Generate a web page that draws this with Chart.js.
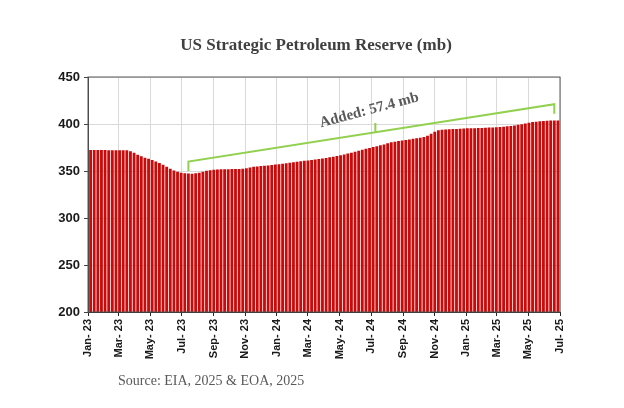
<!DOCTYPE html>
<html lang="en">
<head>
    <meta charset="UTF-8">
    <title>US Strategic Petroleum Reserve</title>
    <script src="https://cdn.jsdelivr.net/npm/chart.js"></script>
    <style>
        html, body { margin: 0; padding: 0; background: #fff; }
        #wrap { width: 624px; height: 408px; }
    </style>
</head>
<body>
    <div id="wrap">
        <canvas id="sprChart" width="624" height="408"></canvas>
    </div>
    <script>
        // weekly stocks (mb), first reading Fri 6 Jan 2023
        const firstWeek = '2023-01-06';
        const sprStocks = [
            372.3, 372.3, 372.3, 372.3, 372.3, 372.2, 372.2, 372.2, 372.2, 372.1, 372.0,
            371.0, 369.3, 367.4, 365.6, 364.2, 362.9, 361.6, 360.1, 358.6, 356.7,
            354.6, 352.4, 350.5, 349.1, 348.2, 347.6, 347.3, 347.2, 347.5, 348.2,
            349.2, 350.2, 350.9, 351.3, 351.6, 351.8, 351.9, 351.9, 352.0, 352.0,
            352.1, 352.4, 353.0, 353.7, 354.4, 354.9, 355.2, 355.5, 355.9, 356.3,
            356.8, 357.3, 357.8, 358.3, 358.8, 359.3, 359.8, 360.3, 360.8, 361.3,
            361.8, 362.3, 362.8, 363.3, 363.9, 364.5, 365.1, 365.9, 366.7, 367.6,
            368.5, 369.5, 370.6, 371.6, 372.6, 373.6, 374.6, 375.5, 376.4, 377.3,
            378.3, 379.5, 380.6, 381.2, 381.8, 382.4, 383.0, 383.5, 384.2, 384.9,
            385.5, 386.2, 387.5, 389.5, 391.8, 393.3, 393.9, 394.2, 394.4, 394.6,
            394.8, 395.0, 395.2, 395.4, 395.5, 395.6, 395.7, 395.8, 396.0, 396.2,
            396.4, 396.6, 396.9, 397.2, 397.6, 398.0, 398.5, 399.1, 399.8, 400.6,
            401.4, 402.0, 402.5, 402.9, 403.2, 403.5, 403.7, 403.8, 403.8
        ];
        const tickLabels = ['Jan- 23', 'Mar- 23', 'May- 23', 'Jul- 23', 'Sep- 23', 'Nov- 23',
            'Jan- 24', 'Mar- 24', 'May- 24', 'Jul- 24', 'Sep- 24', 'Nov- 24',
            'Jan- 25', 'Mar- 25', 'May- 25', 'Jul- 25'];
        const axisEnd = 'Jul- 25';

        // annotation: bracket from the low point to the latest week
        const bracketFromWeek = 27;
        const bracketToWeek = 128;
        const bracketLow = 360;
        const bracketHigh = 421;
        const bracketTick = 10;
        const titleText = 'US Strategic Petroleum Reserve (mb)';
        const addedText = 'Added: 57.4 mb';
        const sourceText = 'Source: EIA, 2025 & EOA, 2025';

        const DAY = 86400000;
        const origin = Date.UTC(2023, 0, 1);
        const months = ['Jan', 'Feb', 'Mar', 'Apr', 'May', 'Jun', 'Jul', 'Aug', 'Sep', 'Oct', 'Nov', 'Dec'];

        // "Mar- 24" -> days since 1 Jan 2023
        function labelToDay(lbl) {
            const [m, y] = lbl.split('-');
            return (Date.UTC(2000 + parseInt(y), months.indexOf(m.trim()), 1) - origin) / DAY;
        }
        const firstDay = (Date.parse(firstWeek) - origin) / DAY;
        const weekDay = i => firstDay + 7 * i;

        const points = sprStocks.map((v, i) => ({ x: weekDay(i), y: v }));
        const tickDays = tickLabels.map(labelToDay);

        // title, green bracket + rotated label, source line
        const extrasPlugin = {
            id: 'extras',
            afterDatasetsDraw(chart) {
                const { ctx, scales: { x, y }, chartArea } = chart;
                const x1 = x.getPixelForValue(weekDay(bracketFromWeek));
                const x2 = x.getPixelForValue(weekDay(bracketToWeek));
                const y1 = y.getPixelForValue(bracketLow);
                const y2 = y.getPixelForValue(bracketHigh);
                const drop = y.getPixelForValue(bracketLow - bracketTick) - y1;
                const xm = (x1 + x2) / 2 + 4, ym = y1 + (y2 - y1) * ((xm - x1) / (x2 - x1));

                ctx.save();
                ctx.strokeStyle = '#92D050';
                ctx.lineWidth = 2;
                ctx.beginPath();
                ctx.moveTo(x1, y1 + drop);
                ctx.lineTo(x1, y1);
                ctx.lineTo(x2, y2);
                ctx.lineTo(x2, y2 + drop);
                ctx.moveTo(xm, ym);
                ctx.lineTo(xm, ym - drop);
                ctx.stroke();

                ctx.translate(xm - 6, ym - 22);
                ctx.rotate(-15 * Math.PI / 180);
                ctx.fillStyle = '#595959';
                ctx.font = 'bold 15px "Liberation Serif"';
                ctx.textAlign = 'center';
                ctx.textBaseline = 'middle';
                ctx.fillText(addedText, 0, 0);
                ctx.restore();

                // plot area frame
                ctx.save();
                ctx.strokeStyle = '#595959';
                ctx.lineWidth = 1;
                ctx.strokeRect(chartArea.left, chartArea.top, chartArea.right - chartArea.left, chartArea.bottom - chartArea.top);
                ctx.restore();
            },
            afterDraw(chart) {
                const { ctx, chartArea } = chart;
                ctx.save();
                ctx.textBaseline = 'middle';
                ctx.fillStyle = '#404040';
                ctx.font = 'bold 17px "Liberation Serif"';
                ctx.textAlign = 'center';
                ctx.fillText(titleText, 316, 46);
                ctx.fillStyle = '#595959';
                ctx.font = '14px "Liberation Serif"';
                ctx.textAlign = 'left';
                ctx.fillText(sourceText, chartArea.left + 30, 381);
                ctx.restore();
            }
        };

        const ctx = document.getElementById('sprChart').getContext('2d');
        new Chart(ctx, {
            type: 'bar',
            data: {
                datasets: [{
                    label: 'SPR',
                    data: points,
                    backgroundColor: '#C80A0A',
                    borderWidth: 0,
                    barPercentage: 0.78,
                    categoryPercentage: 1.0
                }]
            },
            options: {
                responsive: false,
                animation: false,
                layout: { padding: { left: 40, right: 64, top: 77, bottom: 46 } },
                plugins: {
                    legend: { display: false },
                    tooltip: { enabled: false },
                    title: { display: false }
                },
                scales: {
                    x: {
                        type: 'linear',
                        offset: false,
                        min: labelToDay(tickLabels[0]),
                        max: labelToDay(axisEnd),
                        afterBuildTicks: s => { s.ticks = tickDays.map(v => ({ value: v })); },
                        afterFit: s => { s.height = 50; },
                        grid: {
                            offset: false,
                            color: '#D9D9D9',
                            tickColor: '#262626',
                            tickLength: 4,
                            drawOnChartArea: true
                        },
                        border: { color: '#262626', width: 1 },
                        ticks: {
                            autoSkip: false,
                            minRotation: 90,
                            maxRotation: 90,
                            padding: 3,
                            color: '#1a1a1a',
                            font: { family: '"Liberation Sans"', size: 11, weight: 'bold' },
                            callback: v => tickLabels[tickDays.indexOf(v)]
                        }
                    },
                    y: {
                        min: 200,
                        max: 450,
                        afterFit: s => { s.width = 48; },
                        grid: {
                            color: '#D9D9D9',
                            tickColor: '#404040',
                            tickLength: 4
                        },
                        border: { color: '#404040', width: 1 },
                        ticks: {
                            stepSize: 50,
                            padding: 4,
                            color: '#1a1a1a',
                            font: { family: '"Liberation Sans"', size: 13, weight: 'bold' }
                        }
                    }
                }
            },
            plugins: [extrasPlugin]
        });
    </script>
</body>
</html>
